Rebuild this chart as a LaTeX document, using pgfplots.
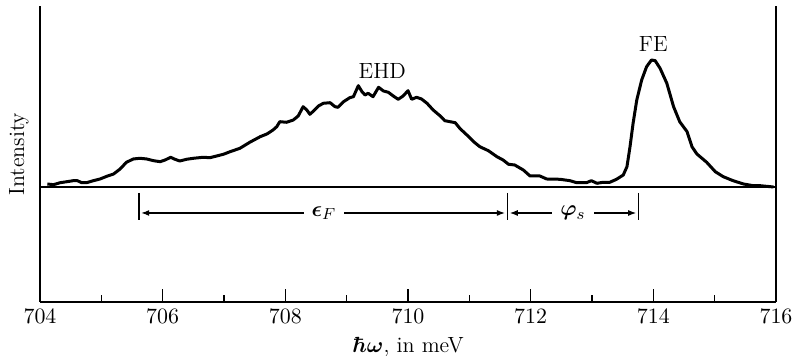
\documentclass[border=0pt]{standalone}
\usepackage{pgfplots}
\pgfplotsset{compat=1.18}
\usepackage{pgfplotstable}
\usepackage{bm}
\usetikzlibrary{arrows.meta}

% spectrum (arbitrary intensity units)
\pgfplotstableread{
x y
704.12 3
704.22 2.3
704.33 4.3
704.44 5.3
704.54 6.3
704.61 6.3
704.68 4.3
704.76 4.3
704.87 6.3
704.98 8
705.09 10.7
705.20 13
705.30 17.7
705.41 24.7
705.52 28
705.63 28.7
705.74 28
705.85 26.3
705.96 25.3
706.04 27
706.13 29.7
706.20 27.7
706.28 26
706.39 27.7
706.50 28.7
706.66 29.7
706.77 29.3
706.88 31
706.99 32.7
707.10 35.3
707.26 38.7
707.42 44.7
707.59 50.3
707.70 53
707.80 57
707.86 60.3
707.91 65.3
708.02 64.7
708.13 67
708.21 71
708.29 80.3
708.35 77
708.40 72.7
708.46 76
708.54 81
708.62 83.7
708.73 84.3
708.81 80.3
708.86 79.7
708.95 85.3
709.05 89.3
709.11 90.3
709.19 101.3
709.25 95.3
709.30 92
709.35 93.7
709.43 90.3
709.52 99.7
709.60 96
709.68 94.7
709.76 91
709.84 87.7
709.92 91
710.00 96.3
710.06 87.7
710.14 89.7
710.22 88
710.31 83.7
710.41 77
710.52 71.3
710.60 66.3
710.77 64.3
710.85 58.3
710.96 52
711.07 45.3
711.17 40.3
711.31 36.3
711.45 30.3
711.55 27
711.64 22.7
711.74 22
711.88 17
711.99 11
712.15 11
712.26 8
712.48 7.7
712.64 6.3
712.75 4.3
712.91 4.3
712.99 6.3
713.08 3.7
713.18 4.7
713.29 4.7
713.40 7.7
713.51 12
713.57 20.3
713.62 40.3
713.67 63.7
713.73 87
713.81 107
713.89 120.3
713.97 127
714.03 126.3
714.11 118.7
714.22 103.7
714.33 80.3
714.43 65.3
714.55 55.3
714.63 40.3
714.71 33
714.87 24.7
715.01 15.3
715.14 10.3
715.30 6.3
715.47 3
715.63 1.3
715.74 1.3
715.96 0
}\spectrum

\begin{document}
\begin{tikzpicture}
\begin{axis}[
  at={(0,0)}, anchor=south west,
  scale only axis,
  width=368pt, height=148pt,
  xmin=704, xmax=716,
  ymin=-115, ymax=181,
  axis x line=bottom,
  axis y line=box,
  axis line style={-, line width=0.9pt},
  tick align=inside,
  xtick={704,706,...,716},
  minor x tick num=1,
  major tick length=6.5pt,
  minor tick length=3.5pt,
  tick style={line width=0.8pt, black},
  ytick=\empty,
  xticklabel style={font=\fontsize{11}{13}\selectfont},
  xlabel={$\bm{\hbar\omega}$, in meV},
  xlabel style={font=\fontsize{11}{13}\selectfont},
  ylabel={Intensity},
  ylabel style={font=\fontsize{11}{13}\selectfont,
    at={(axis description cs:-0.006,0.5)}, anchor=south},
  clip=false,
]
\addplot[black, line width=1.5pt, line join=round] table[x=x,y=y] {\spectrum};

% zero line
\draw[line width=0.9pt] (axis cs:704,0) -- (axis cs:716,0);

% energy markers
\draw[line width=0.8pt] (axis cs:705.61,-6) -- (axis cs:705.61,-33);
\draw[line width=0.8pt] (axis cs:711.62,-6) -- (axis cs:711.62,-33);
\draw[line width=0.8pt] (axis cs:713.76,-6) -- (axis cs:713.76,-33);
\draw[line width=0.6pt, {Latex[length=4pt,width=3pt]}-{Latex[length=4pt,width=3pt]}]
  (axis cs:705.65,-26) -- (axis cs:711.58,-26);
\draw[line width=0.6pt, {Latex[length=4pt,width=3pt]}-{Latex[length=4pt,width=3pt]}]
  (axis cs:711.66,-26) -- (axis cs:713.72,-26);
\node[fill=white, inner xsep=4pt, font=\fontsize{11}{13}\selectfont] at (axis cs:708.63,-26) {$\bm{\epsilon}_F$};
\node[fill=white, inner xsep=4pt, font=\fontsize{11}{13}\selectfont] at (axis cs:712.69,-26) {$\bm{\varphi}_s$};

\node[font=\fontsize{11}{13}\selectfont] at (axis cs:709.58,116) {EHD};
\node[font=\fontsize{11}{13}\selectfont] at (axis cs:714.0,142.5) {FE};
\end{axis}
\pgfresetboundingbox
\useasboundingbox (-20pt,-27pt) rectangle (377pt,151pt);
\end{tikzpicture}
\end{document}
